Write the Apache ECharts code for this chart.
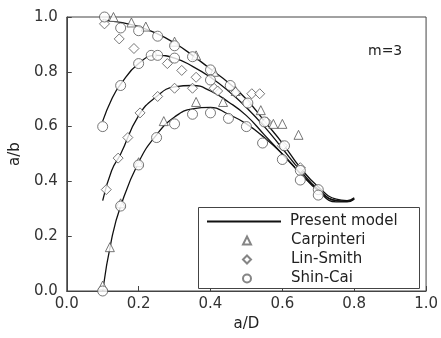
<!DOCTYPE html>
<html>
<head>
<meta charset="utf-8">
<script src="https://cdn.jsdelivr.net/npm/echarts@6/dist/echarts.min.js"></script>
<style>
html,body{margin:0;padding:0;background:#fff;}
#chart{width:441px;height:338px;}
</style>
</head>
<body>
<div id="chart"></div>
<script>
// model curves (a/D, a/b)
var curveX = [0.10, 0.125, 0.15, 0.20, 0.25, 0.30, 0.35, 0.40, 0.45, 0.50, 0.55, 0.60, 0.65, 0.70, 0.75, 0.78, 0.80];
var curve1 = [0.99, 0.985, 0.98, 0.965, 0.94, 0.905, 0.86, 0.81, 0.76, 0.70, 0.62, 0.54, 0.45, 0.38, 0.335, 0.33, 0.34];
var curve2 = [0.62, 0.70, 0.755, 0.83, 0.86, 0.85, 0.82, 0.78, 0.73, 0.67, 0.60, 0.52, 0.44, 0.37, 0.33, 0.328, 0.338];
var curve3 = [0.33, 0.44, 0.50, 0.64, 0.71, 0.745, 0.75, 0.73, 0.69, 0.64, 0.57, 0.50, 0.43, 0.37, 0.33, 0.327, 0.337];
var curve4 = [0.00, 0.19, 0.31, 0.47, 0.57, 0.635, 0.665, 0.67, 0.645, 0.61, 0.56, 0.50, 0.43, 0.365, 0.325, 0.325, 0.335];

var carpinteri = [[0.10,0.02],[0.12,0.16],[0.15,0.32],[0.20,0.47],[0.27,0.62],[0.36,0.69],[0.435,0.69],
  [0.54,0.66],[0.575,0.61],[0.60,0.61],[0.645,0.57],[0.13,1.0],[0.18,0.98],[0.22,0.965],[0.30,0.91],
  [0.36,0.86],[0.41,0.80],[0.47,0.73]];
var linSmith = [[0.105,0.975],[0.146,0.92],[0.187,0.885],[0.28,0.83],[0.32,0.805],[0.36,0.78],[0.41,0.74],
  [0.47,0.725],[0.515,0.72],[0.537,0.72],[0.50,0.686],[0.556,0.617],[0.11,0.37],[0.143,0.485],[0.17,0.56],
  [0.204,0.65],[0.253,0.71],[0.30,0.74],[0.35,0.74],[0.42,0.73],[0.60,0.53],[0.65,0.45]];
var shinCai = [[0.105,1.0],[0.15,0.96],[0.20,0.95],[0.253,0.93],[0.30,0.895],[0.35,0.855],[0.40,0.807],
  [0.455,0.75],[0.504,0.686],[0.55,0.617],[0.606,0.53],[0.65,0.44],[0.70,0.37],
  [0.10,0.60],[0.15,0.75],[0.20,0.83],[0.235,0.86],[0.253,0.86],[0.30,0.85],[0.40,0.77],
  [0.10,0.0],[0.15,0.31],[0.20,0.46],[0.25,0.56],[0.30,0.61],[0.35,0.645],[0.40,0.65],[0.45,0.63],
  [0.50,0.60],[0.545,0.54],[0.60,0.48],[0.65,0.405],[0.70,0.35]];

function pairs(ys){
	var out = [];
	for(var i=0;i<curveX.length;i++){
		out.push([curveX[i], ys[i]]);
	}
	return out;
}

var chart = echarts.init(document.getElementById("chart"));
var font = "DejaVu Sans, sans-serif";
var markStyle = {color:'#fff', borderColor:'#555', borderWidth:1};

function lineSeries(ys){
	return {
		name:'Present model',
		type:'line',
		smooth:true,
		showSymbol:false,
		symbol:'none',
		data:pairs(ys),
		lineStyle:{color:'#111', width:1.3},
		itemStyle:{color:'#111'},
		z:3
	};
}

var option = {
	animation:false,
	grid:{left:65, right:13, top:17, bottom:47, show:true, borderColor:'#444', borderWidth:1},
	legend:[{
		// model line entry
		left:206, top:214, padding:0,
		itemWidth:74, itemHeight:14,
		textStyle:{fontFamily:font, fontSize:15, color:'#222', padding:[0,0,0,4]},
		data:[{name:'Present model', itemStyle:{opacity:0}}],
		z:7
	},{
		// experimental symbols
		orient:'vertical',
		left:242, top:233, padding:0,
		itemGap:4,
		itemWidth:8, itemHeight:8,
		itemStyle:{borderColor:'#666'},
		textStyle:{fontFamily:font, fontSize:15, color:'#222', padding:[0,0,0,35]},
		data:['Carpinteri','Lin-Smith','Shin-Cai'],
		z:7
	}],
	xAxis:{
		type:'value', min:0, max:1, interval:0.2,
		name:'a/D', nameLocation:'middle', nameGap:25,
		nameTextStyle:{fontFamily:font, fontSize:15, color:'#222'},
		axisLine:{lineStyle:{color:'#444'}},
		axisTick:{inside:true, length:5, lineStyle:{color:'#444'}},
		axisLabel:{fontFamily:font, fontSize:15, color:'#333', margin:6,
			formatter:function(v){return v.toFixed(1);}},
		splitLine:{show:false}
	},
	yAxis:{
		type:'value', min:0, max:1, interval:0.2,
		name:'a/b', nameLocation:'middle', nameGap:40,
		nameTextStyle:{fontFamily:font, fontSize:15, color:'#222'},
		axisLine:{show:true, lineStyle:{color:'#444'}},
		axisTick:{show:true, inside:true, length:5, lineStyle:{color:'#444'}},
		axisLabel:{fontFamily:font, fontSize:15, color:'#333', margin:9,
			formatter:function(v){return v.toFixed(1);}},
		splitLine:{show:false}
	},
	graphic:[{
		type:'rect', left:198, top:207, z:6,
		shape:{width:221, height:81},
		style:{fill:'#fff', stroke:'#444', lineWidth:1}
	},{
		type:'text', left:368, top:44,
		style:{text:'m=3', font:'14px ' + font, fill:'#222'}
	}],
	series:[
		lineSeries(curve1), lineSeries(curve2), lineSeries(curve3), lineSeries(curve4),
		{name:'Carpinteri', type:'scatter', symbol:'triangle', symbolSize:9, data:carpinteri, itemStyle:markStyle, z:4},
		{name:'Lin-Smith', type:'scatter', symbol:'diamond', symbolSize:10, data:linSmith, itemStyle:markStyle, z:4},
		{name:'Shin-Cai', type:'scatter', symbol:'circle', symbolSize:10, data:shinCai, itemStyle:markStyle, z:4}
	]
};
chart.setOption(option);
</script>
</body>
</html>
